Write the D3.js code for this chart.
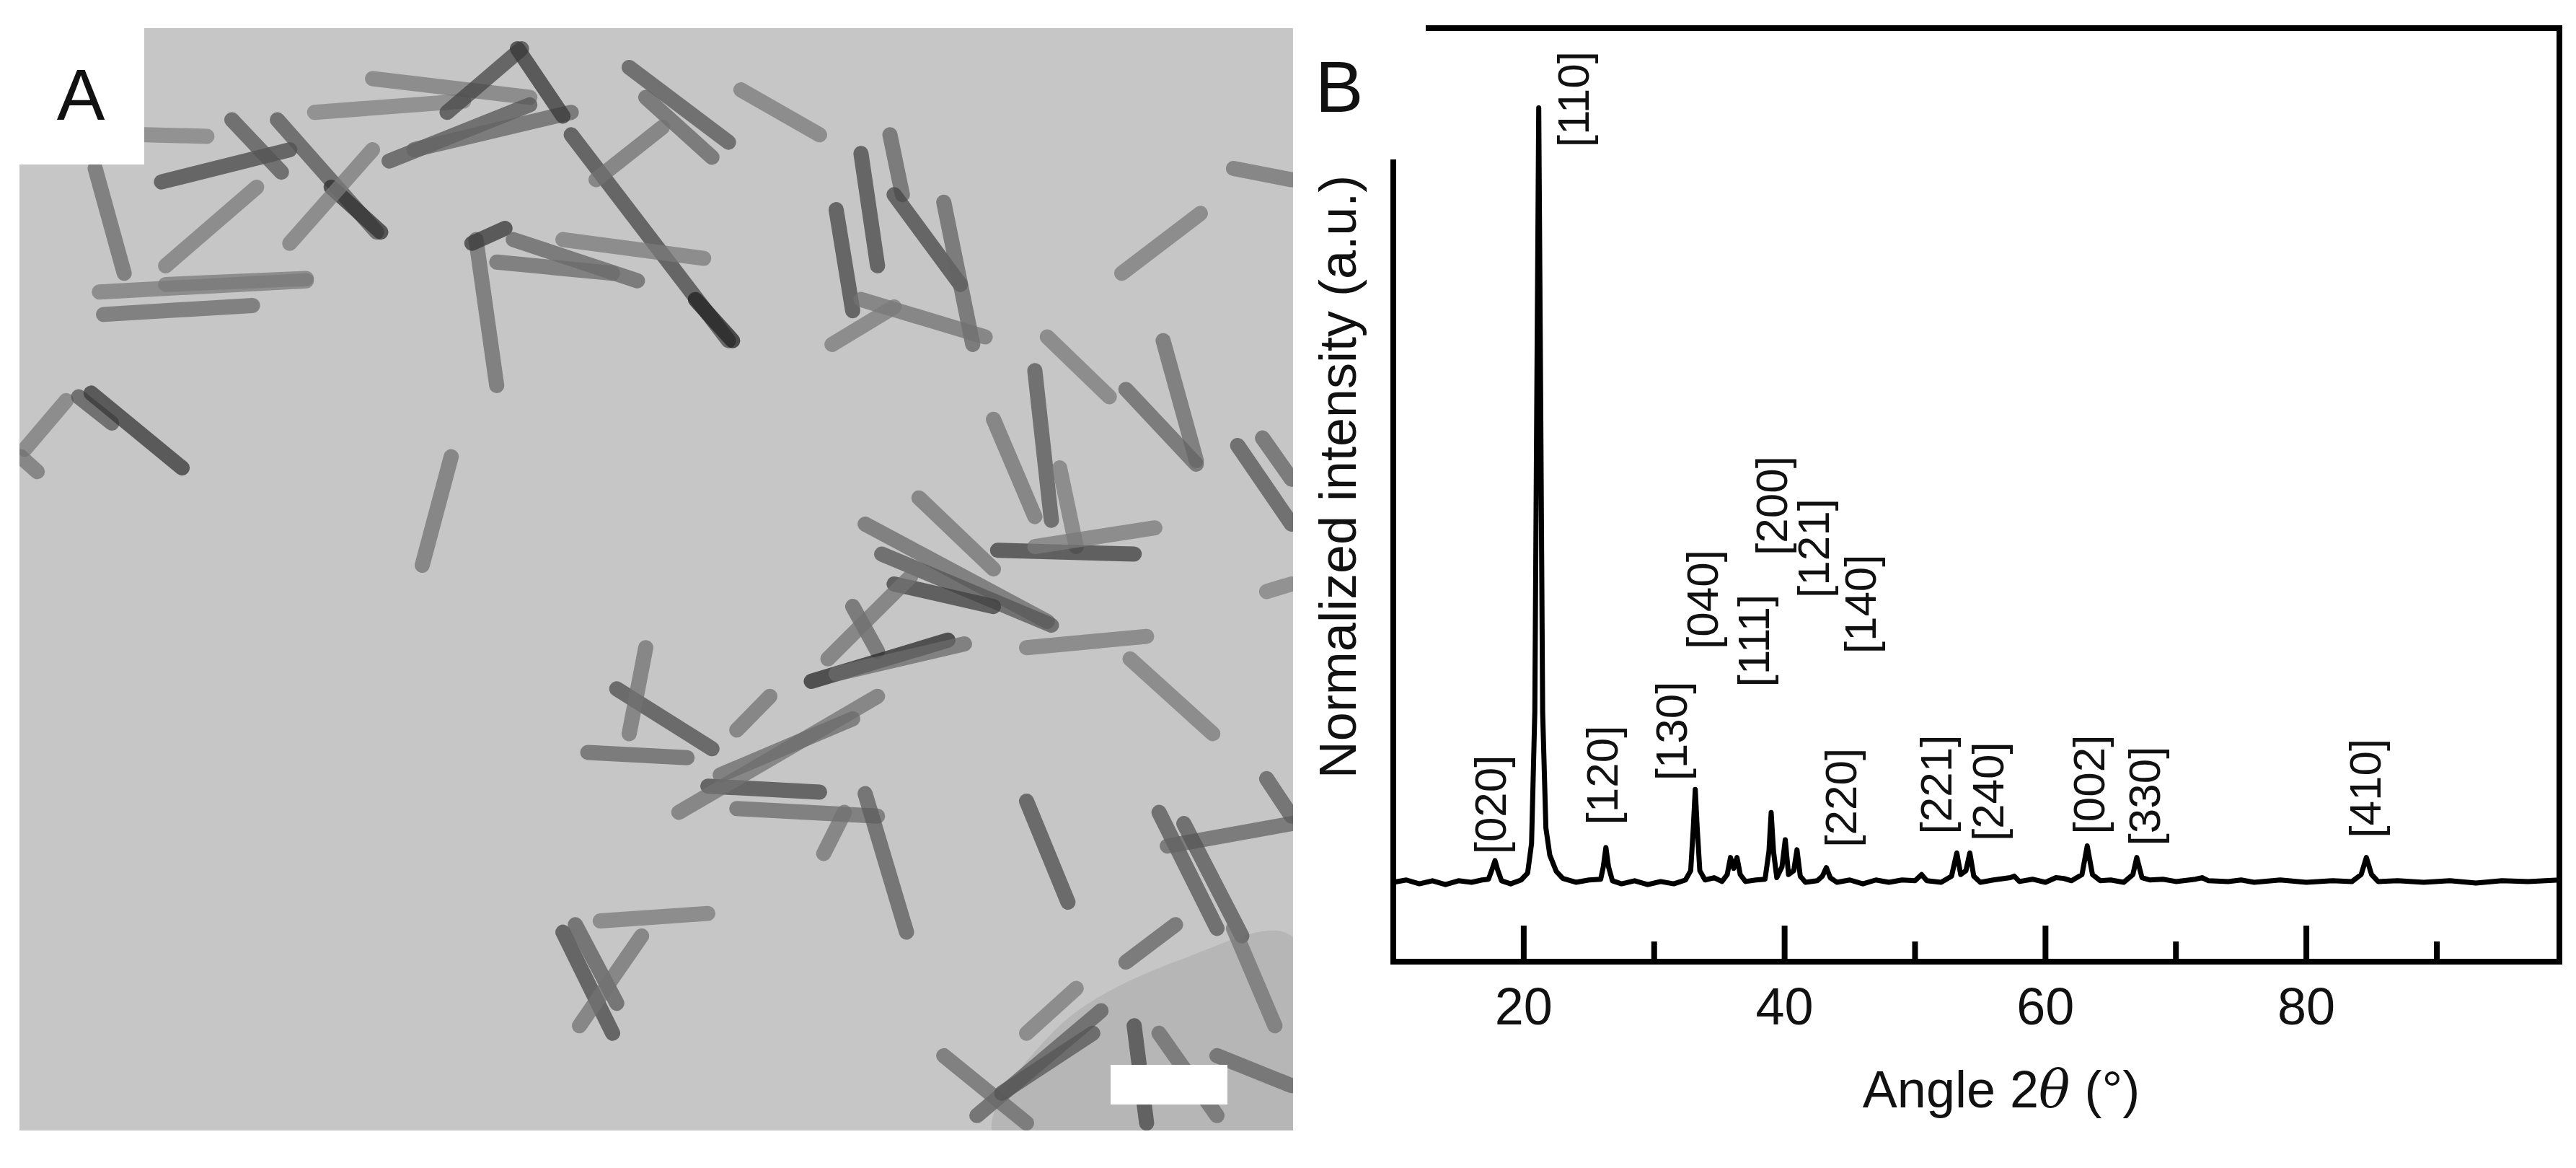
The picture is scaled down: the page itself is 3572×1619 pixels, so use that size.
<!DOCTYPE html>
<html>
<head>
<meta charset="utf-8">
<script src="https://cdn.jsdelivr.net/npm/d3@7"></script>
<style>
  body { margin: 0; background: #fff; }
  text { font-family: "Liberation Sans", "DejaVu Sans", sans-serif; fill: #111; }
</style>
</head>
<body>
<div id="chart"></div>
<script>
// XRD trace: [angle 2θ, normalized intensity]
const trace = [
  [10.0, 0.000], [11, 0.003], [12, -0.002], [13, 0.002], [14, -0.003], [15, 0.002], [16, 0.000],
  [16.8, 0.003], [17.3, 0.004], [17.6, 0.018], [17.8, 0.028], [18.0, 0.016], [18.3, 0.002],
  [19, -0.002], [19.8, 0.003], [20.3, 0.012], [20.6, 0.05], [20.85, 0.22], [21.0, 0.62], [21.15, 1.0],
  [21.3, 0.62], [21.45, 0.22], [21.7, 0.07], [22.0, 0.035], [22.5, 0.014], [23, 0.005], [24, 0.000],
  [25, 0.003], [25.9, 0.004], [26.1, 0.02], [26.3, 0.045], [26.5, 0.02], [26.8, 0.002],
  [27.5, -0.002], [28.5, 0.002], [29.5, -0.003], [30.5, 0.001], [31.5, -0.002], [32.4, 0.003],
  [32.8, 0.015], [33.0, 0.07], [33.15, 0.12], [33.3, 0.07], [33.5, 0.015], [33.9, 0.003],
  [34.6, 0.006], [35.2, 0.001], [35.6, 0.01], [35.85, 0.032], [36.1, 0.018], [36.35, 0.032],
  [36.6, 0.01], [37.0, 0.001], [37.8, 0.003], [38.5, 0.004], [38.8, 0.04], [38.97, 0.09],
  [39.15, 0.04], [39.4, 0.006], [39.8, 0.02], [40.05, 0.055], [40.3, 0.01], [40.7, 0.015],
  [40.95, 0.042], [41.2, 0.008], [41.6, 0.000], [42.5, 0.002], [42.9, 0.008], [43.2, 0.019],
  [43.5, 0.006], [44, 0.000], [45, 0.003], [46, -0.002], [47, 0.003], [48, 0.000], [49, 0.003],
  [50, 0.002], [50.5, 0.01], [50.9, 0.002], [52, 0.000], [52.8, 0.008], [53.2, 0.038], [53.5, 0.01],
  [53.9, 0.015], [54.2, 0.038], [54.5, 0.008], [55, 0.000], [56, 0.003], [57.3, 0.006], [57.6, 0.008],
  [58, 0.001], [59, 0.004], [60, 0.000], [60.8, 0.006], [61.4, 0.005], [62, 0.002], [62.8, 0.01],
  [63.2, 0.047], [63.6, 0.01], [64.2, 0.002], [65, 0.003], [66, 0.000], [66.7, 0.01], [67.0, 0.032],
  [67.4, 0.006], [68, 0.003], [69, 0.004], [70, 0.001], [71.5, 0.004], [72, 0.006], [72.5, 0.002],
  [74, 0.001], [75, 0.003], [76, 0.000], [78, 0.003], [80, 0.000], [82, 0.002], [83.5, 0.001],
  [84.2, 0.01], [84.6, 0.032], [85.0, 0.01], [85.5, 0.001], [87, 0.002], [89, 0.000], [91, 0.002],
  [93, -0.001], [95, 0.002], [97, 0.001], [99.4, 0.003]
];

// reflection labels: [text, angle of label centre, intensity at label foot]
const peakLabels = [
  ["[020]", 17.46, 0.036], ["[110]", 23.78, 0.949], ["[120]", 26.0, 0.074], ["[130]", 31.3, 0.131],
  ["[040]", 33.7, 0.301], ["[111]", 37.6, 0.252], ["[200]", 39.0, 0.422], ["[121]", 42.2, 0.367],
  ["[140]", 45.8, 0.295], ["[220]", 44.3, 0.045], ["[221]", 51.6, 0.062], ["[240]", 55.6, 0.053],
  ["[002]", 63.3, 0.062], ["[330]", 67.6, 0.047], ["[410]", 84.5, 0.057]
];

const majorTicks = [20, 40, 60, 80];
const minorTicks = [30, 50, 70, 90];

// micrograph rods: [x1, y1, x2, y2, darkness], in image units
const rods = [
  [115,225,150,365,.45],[195,243,350,200,.7],[280,160,340,230,.6],[335,160,455,310,.6],[400,250,460,310,.85],
  [200,355,310,250,.35],[350,325,450,200,.35],[120,390,370,375,.35],[125,420,305,408,.45],[200,380,370,372,.35],
  [175,180,250,182,.3],[380,150,560,135,.3],[450,105,640,130,.35],[470,215,640,140,.6],[500,200,690,150,.5],
  [540,150,630,65,.7],[625,65,680,155,.8],[690,180,880,455,.7],[840,400,885,455,.95],[760,90,880,190,.6],
  [780,130,860,210,.5],[720,240,800,170,.4],[575,320,600,515,.45],[570,325,610,305,.8],[620,320,770,375,.5],
  [600,350,740,365,.45],[680,320,850,345,.35],[895,120,990,180,.35],[1010,280,1030,415,.7],[1040,205,1060,355,.7],
  [1075,180,1090,260,.5],[1080,260,1160,380,.7],[1140,270,1175,460,.5],[1040,400,1190,450,.4],[1005,460,1080,410,.35],
  [1355,365,1450,285,.35],[1490,225,1560,240,.4],[1265,450,1340,530,.35],[1405,455,1445,615,.45],[1360,520,1445,620,.5],
  [1250,495,1270,695,.6],[1200,560,1250,690,.4],[1280,625,1300,730,.35],[1495,595,1560,700,.6],[1525,585,1560,640,.5],
  [30,600,80,535,.35],[95,530,135,565,.6],[110,525,220,625,.8],[25,610,45,630,.4],[510,755,545,610,.4],
  [1045,700,1265,830,.45],[1110,665,1200,760,.4],[1205,735,1370,740,.75],[1250,730,1395,705,.35],[1065,740,1270,835,.6],
  [1080,780,1200,810,.75],[1030,810,1060,870,.5],[980,910,1145,855,.9],[1010,900,1165,860,.45],[1240,865,1385,850,.35],
  [1365,880,1465,980,.35],[1000,880,1100,770,.4],[745,920,860,1000,.65],[760,980,780,865,.4],[710,1005,830,1012,.5],
  [855,1050,990,1058,.7],[820,1085,1060,930,.4],[870,1035,1030,960,.45],[890,1080,1060,1090,.45],[890,975,930,930,.4],
  [1045,1060,1095,1245,.55],[995,1140,1020,1085,.4],[1240,1070,1290,1205,.65],[725,1230,855,1220,.35],[680,1245,740,1380,.7],
  [695,1235,745,1340,.55],[700,1370,775,1250,.4],[1400,1085,1470,1240,.6],[1410,1130,1560,1100,.5],[1430,1100,1500,1250,.6],
  [1490,1240,1540,1370,.4],[1360,1285,1420,1235,.5],[1530,1040,1560,1090,.55],[1240,1380,1300,1320,.35],[1180,1490,1330,1350,.55],
  [1140,1410,1240,1500,.45],[1210,1460,1320,1380,.6],[1370,1370,1385,1500,.7],[1400,1380,1470,1490,.45],[1470,1410,1560,1450,.5],
  [1530,790,1560,780,.3]
];
const filmPatch = [[1280,1370],[1430,1280],[1560,1250],[1560,1515],[1200,1515]];

const W = 3572, H = 1619;
const svg = d3.select("#chart").append("svg").attr("width", W).attr("height", H);

// ---- panel A: micrograph ----
const ix = d3.scaleLinear().domain([0, 1568]).range([0, 1800]);
const iy = d3.scaleLinear().domain([0, 1560]).range([0, 1619]);
const img = svg.append("g");
img.append("clipPath").attr("id", "imgclip").append("rect")
  .attr("x", 27).attr("y", 39).attr("width", 1766).attr("height", 1528);
const ig = img.append("g").attr("clip-path", "url(#imgclip)");
ig.append("rect").attr("x", 27).attr("y", 39).attr("width", 1766).attr("height", 1528).attr("fill", "#c6c6c6");
ig.append("path").attr("d", d3.line().x(d => ix(d[0])).y(d => iy(d[1])).curve(d3.curveCatmullRomClosed)(filmPatch))
  .attr("fill", "#b6b6b6");
const shade = d3.interpolateRgb("#adadad", "#1a1a1a");
ig.selectAll("line.rod").data(rods).join("line").attr("class", "rod")
  .attr("x1", d => ix(d[0])).attr("y1", d => iy(d[1]))
  .attr("x2", d => ix(d[2])).attr("y2", d => iy(d[3]))
  .attr("stroke", d => shade(d[4])).attr("stroke-width", 21)
  .attr("stroke-linecap", "round").attr("opacity", 0.75);
img.append("rect").attr("x", 0).attr("y", 0).attr("width", 200).attr("height", 228).attr("fill", "#fff");
img.append("rect").attr("x", 1540).attr("y", 1476).attr("width", 162).attr("height", 55).attr("fill", "#fff");
svg.append("text").attr("x", 112).attr("y", 166).attr("text-anchor", "middle")
  .attr("font-size", 100).text("A");

// ---- panel B: XRD ----
const x = d3.scaleLinear().domain([10, 99.4]).range([1932, 3549]);
const y = d3.scaleLinear().domain([-0.1025, 1.103]).range([1333, 39]);
const g = svg.append("g");

g.append("line").attr("x1", 1932).attr("x2", 3549).attr("y1", 1333).attr("y2", 1333).attr("stroke", "#000").attr("stroke-width", 8);
g.append("line").attr("x1", 1932).attr("x2", 1932).attr("y1", 221).attr("y2", 1337).attr("stroke", "#000").attr("stroke-width", 8);
g.append("line").attr("x1", 1977).attr("x2", 3553).attr("y1", 39).attr("y2", 39).attr("stroke", "#000").attr("stroke-width", 8);
g.append("line").attr("x1", 3549).attr("x2", 3549).attr("y1", 35).attr("y2", 1337).attr("stroke", "#000").attr("stroke-width", 8);

g.selectAll("line.maj").data(majorTicks).join("line").attr("class", "maj")
  .attr("x1", d => x(d)).attr("x2", d => x(d)).attr("y1", 1333).attr("y2", 1283)
  .attr("stroke", "#000").attr("stroke-width", 8);
g.selectAll("line.min").data(minorTicks).join("line").attr("class", "min")
  .attr("x1", d => x(d)).attr("x2", d => x(d)).attr("y1", 1333).attr("y2", 1305)
  .attr("stroke", "#000").attr("stroke-width", 8);
g.selectAll("text.tick").data(majorTicks).join("text").attr("class", "tick")
  .attr("x", d => x(d)).attr("y", 1420).attr("text-anchor", "middle")
  .attr("font-size", 72).text(d => d);

g.append("path").datum(trace)
  .attr("fill", "none").attr("stroke", "#000").attr("stroke-width", 7)
  .attr("stroke-linejoin", "round")
  .attr("d", d3.line().x(d => x(d[0])).y(d => y(d[1])));

g.selectAll("text.pk").data(peakLabels).join("text").attr("class", "pk")
  .attr("transform", d => `translate(${x(d[1])},${y(d[2])}) rotate(-90)`)
  .attr("dominant-baseline", "central").attr("text-anchor", "start")
  .attr("font-size", 62).text(d => d[0]);

const xt = g.append("text").attr("x", 2775).attr("y", 1535).attr("text-anchor", "middle").attr("font-size", 72);
xt.append("tspan").text("Angle 2");
xt.append("tspan").attr("font-style", "italic").attr("font-family", "DejaVu Serif").text("θ");
xt.append("tspan").text(" (°)");

g.append("text").attr("transform", "translate(1880,661) rotate(-90)")
  .attr("text-anchor", "middle").attr("font-size", 72).text("Normalized intensity (a.u.)");

svg.append("text").attr("x", 1857).attr("y", 155).attr("text-anchor", "middle")
  .attr("font-size", 100).text("B");
</script>
</body>
</html>
